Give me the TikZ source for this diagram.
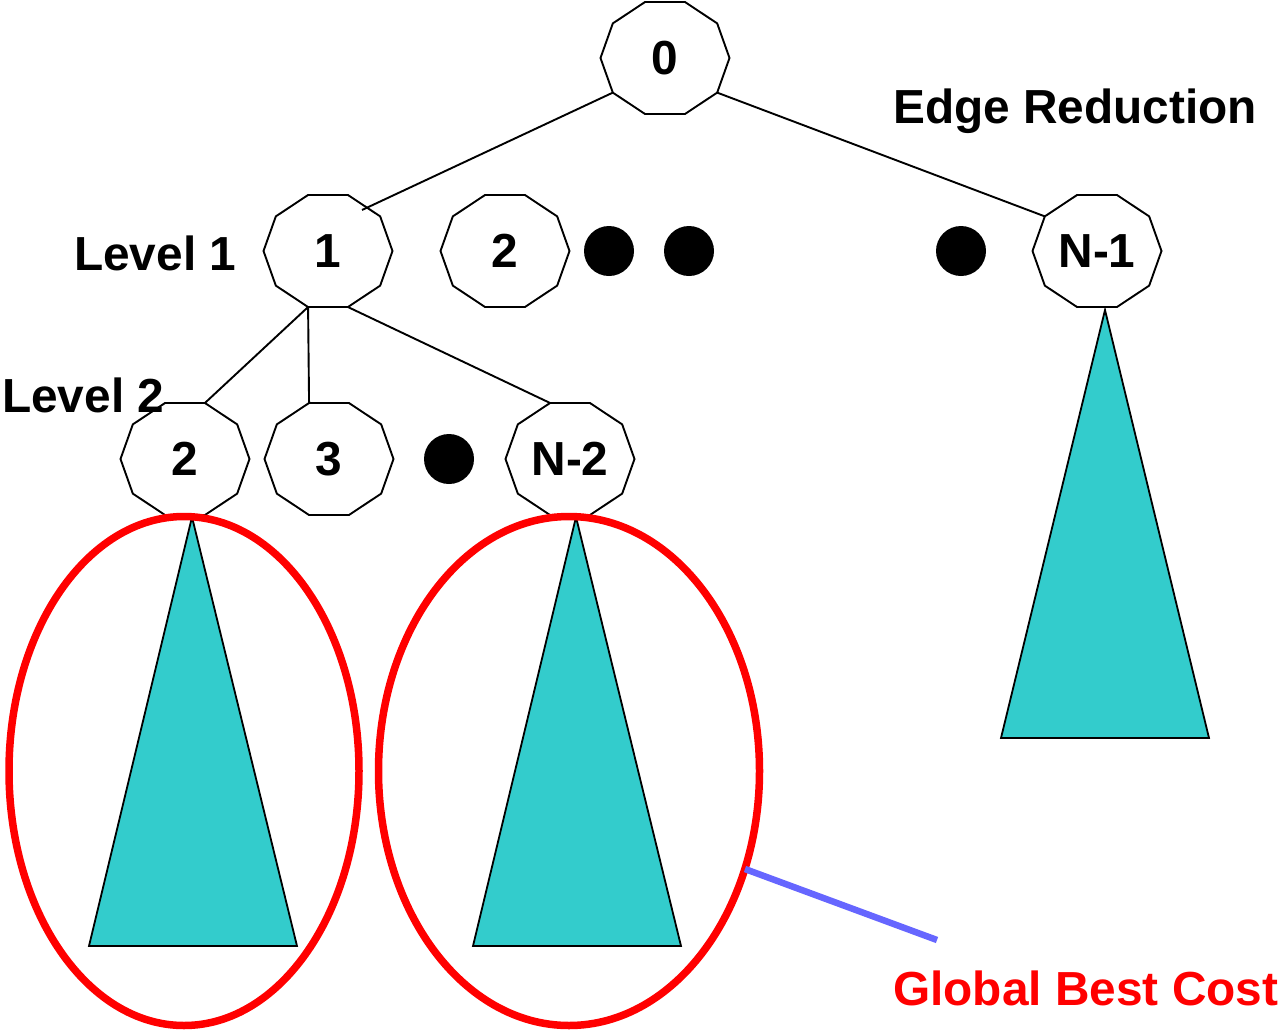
\documentclass[tikz,border=0pt]{standalone}
\usepackage{fontspec}
\setmainfont{Liberation Sans}
\usetikzlibrary{calc}

\definecolor{subtree}{HTML}{33CCCC}
\definecolor{ringred}{HTML}{FF0000}
\definecolor{pointer}{HTML}{6666FF}

\tikzset{
  big/.style={font=\fontsize{47.8}{57}\selectfont\bfseries},
  numlabel/.style={big, inner sep=0pt},
  sidelabel/.style={big, inner sep=0pt, anchor=base west},
  treeline/.style={line width=1.9pt, black},
  subtri/.style={fill=subtree, draw=black, line width=1.8pt, line join=miter},
  ring/.style={draw=ringred, line width=7.5pt},
  dotmark/.style={circle, fill=black, minimum size=50pt, inner sep=0pt},
  callout/.style={draw=pointer, line width=6.5pt},
}

% decagon node: name, x, y, text; corners are (<name>-v0) ... (<name>-v9)
\newcommand\decagonnode[4]{%
  \node[numlabel] (#1) at (#2,#3) {#4};
  \foreach \k in {0,...,9}
    \coordinate (#1-v\k) at ($(#1.center)+(\k*36:64.5 and 58.9)$);
  \draw[treeline, line join=miter] (#1-v0)
    \foreach \k in {1,...,9}{ -- (#1-v\k)} -- cycle;
}

\begin{document}
\begin{tikzpicture}[x=1pt, y=-1pt]
  \useasboundingbox (0,0) rectangle (1283,1031);

  % subtrees
  \draw[subtri] (192,517) -- (297,946) -- (89,946) -- cycle;
  \draw[subtri] (576,517) -- (681,946) -- (473,946) -- cycle;
  \draw[subtri] (1105,310) -- (1209,738) -- (1001,738) -- cycle;

  % search tree nodes
  \decagonnode{r0}{665}{58}{0}
  \decagonnode{a1}{328}{251}{1}
  \decagonnode{a2}{505}{251}{2}
  \decagonnode{aN}{1097}{251}{N-1}
  \decagonnode{b2}{185}{459}{2}
  \decagonnode{b3}{329}{459}{3}
  \decagonnode{bN}{570}{459}{N-2}

  % elided siblings
  \node[dotmark] (d1) at (609,251) {};
  \node[dotmark] (d2) at (689,251) {};
  \node[dotmark] (d3) at (961,251) {};
  \node[dotmark] (d4) at (449,459) {};

  % tree edges
  \coordinate (e01) at (362,210);
  \draw[treeline] (r0-v4) -- (e01);
  \draw[treeline] (r0-v1) -- (aN-v6);
  \draw[treeline] (a1-v3) -- (b2-v8);
  \draw[treeline] (a1-v3) -- (b3-v7);
  \draw[treeline] (a1-v2) -- (bN-v7);

  % bounded subtrees
  \draw[ring] (184,771) ellipse [x radius=175pt, y radius=254.5pt];
  \draw[ring] (569,771) ellipse [x radius=190.5pt, y radius=254.5pt];

  % labels
  \node[sidelabel] (edge) at (893,123) {Edge Reduction};
  \node[sidelabel] (lv1) at (74,270) {Level 1};
  \node[sidelabel] (lv2) at (2,412) {Level 2};
  \node[sidelabel, text=ringred] (gbc) at (893,1005) {Global Best Cost};

  % callout
  \coordinate (cs) at (745,869);
  \coordinate (ce) at (937,940);
  \draw[callout] (cs) -- (ce);
\end{tikzpicture}
\end{document}
